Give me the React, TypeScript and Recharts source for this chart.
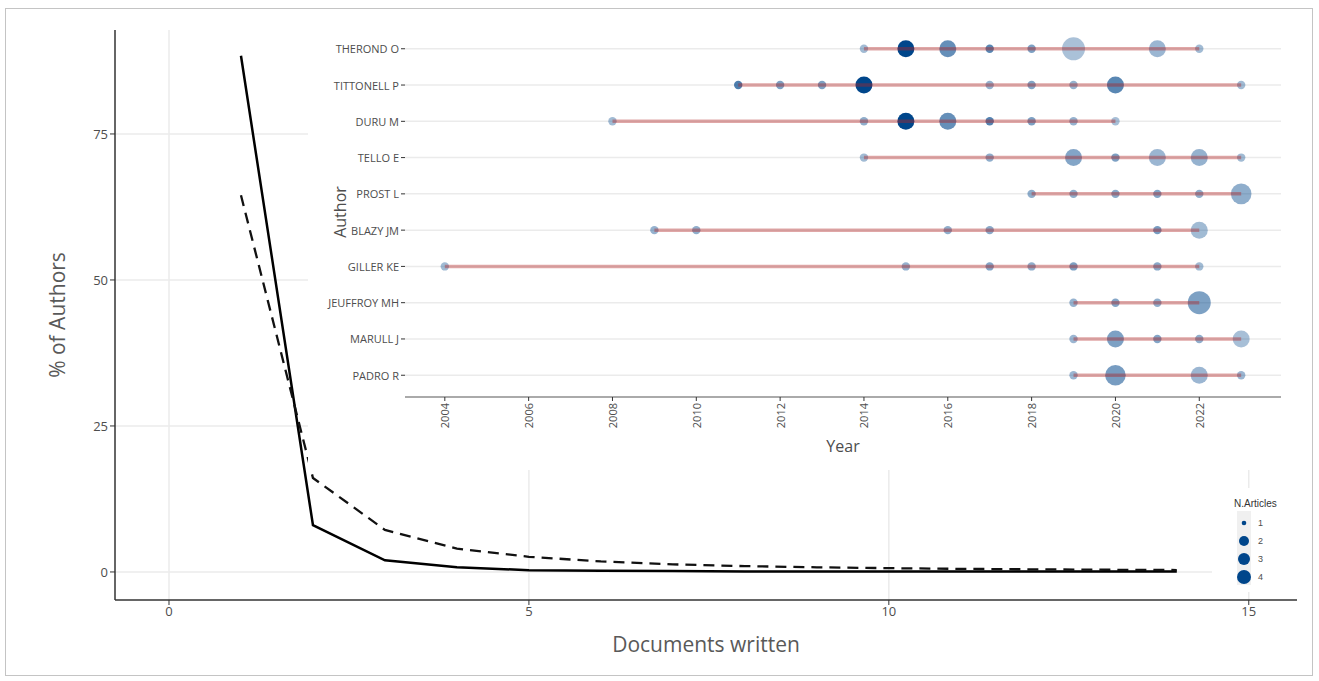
import React from 'react';
import { LineChart, Line, ScatterChart, Scatter, XAxis, YAxis, CartesianGrid, Label } from 'recharts';

const FONT = '"Open Sans", sans-serif';
const TEXT = '#4d4d4d';
const DOT = '#00468B';

// Lotka's law: share of authors by number of documents written
const docsWritten = [1, 2, 3, 4, 5, 6, 7, 8, 9, 10, 11, 12, 13, 14];
const observedPct = [88.4, 8.0, 2.0, 0.8, 0.3, 0.2, 0.15, 0.1, 0.1, 0.08, 0.08, 0.08, 0.08, 0.08];
const lotkaPct = [64.5, 16.1, 7.2, 4.0, 2.6, 1.8, 1.3, 1.0, 0.8, 0.65, 0.53, 0.45, 0.38, 0.33];
const docsTicks = [0, 5, 10, 15];
const pctTicks = [0, 25, 50, 75];

// top authors' production over time
const authors = ['THEROND O', 'TITTONELL P', 'DURU M', 'TELLO E', 'PROST L', 'BLAZY JM', 'GILLER KE', 'JEUFFROY MH', 'MARULL J', 'PADRO R'];
const pubYears = [
  [2014, 2015, 2016, 2017, 2018, 2019, 2021, 2022],
  [2011, 2012, 2013, 2014, 2017, 2018, 2019, 2020, 2023],
  [2008, 2014, 2015, 2016, 2017, 2018, 2019, 2020],
  [2014, 2017, 2019, 2020, 2021, 2022, 2023],
  [2018, 2019, 2020, 2021, 2022, 2023],
  [2009, 2010, 2016, 2017, 2021, 2022],
  [2004, 2015, 2017, 2018, 2019, 2021, 2022],
  [2019, 2020, 2021, 2022],
  [2019, 2020, 2021, 2022, 2023],
  [2019, 2020, 2022, 2023],
];
const pubArticles = [
  [1, 2, 2, 1, 1, 4, 2, 1],
  [1, 1, 1, 2, 1, 1, 1, 2, 1],
  [1, 1, 2, 2, 1, 1, 1, 1],
  [1, 1, 2, 1, 2, 2, 1],
  [1, 1, 1, 1, 1, 3],
  [1, 1, 1, 1, 1, 2],
  [1, 1, 1, 1, 1, 1, 1],
  [1, 1, 1, 4],
  [1, 2, 1, 1, 2],
  [1, 3, 2, 1],
];
const pubTcPerYear = [
  [3, 30, 13, 15, 9, 1.5, 4, 3],
  [17, 9, 9, 30, 5, 8, 5, 15, 3],
  [3, 6, 30, 13, 16, 9, 5, 2],
  [3, 6, 8, 9, 4, 5, 3],
  [6, 6, 7, 8, 6, 6],
  [5, 6, 6, 7, 10, 3],
  [3, 5, 8, 6, 9, 7, 3],
  [5, 8, 6, 9],
  [4, 9, 8, 6, 2],
  [4, 10, 4, 4],
];
const yearTicks = [2004, 2006, 2008, 2010, 2012, 2014, 2016, 2018, 2020, 2022];
const legendArticles = [1, 2, 3, 4];

const lotkaRows = docsWritten.map((docs, i) => ({ docs, observed: observedPct[i], theoretical: lotkaPct[i] }));
const points = authors.flatMap((author, row) =>
  pubYears[row].map((year, j) => ({ author, row, year, n: pubArticles[row][j], tc: pubTcPerYear[row][j] }))
);
const spans = authors.map((author, row) => [
  { author, row, year: pubYears[row][0] },
  { author, row, year: pubYears[row][pubYears[row].length - 1] },
]);
const rowTicks = authors.map((_, i) => i);

const maxTc = Math.max(...pubTcPerYear.flat());
const dotRadius = (n: number) => [0, 4.2, 8.5, 10.3, 11.5][n];
const legendRadius = (n: number) => [0, 2.3, 5, 6, 7][n];
const dotOpacity = (tc: number) => 0.3 + (0.7 * tc) / maxTc;

const renderDot = (props: any) => {
  const { cx, cy, payload } = props;
  return <circle cx={cx} cy={cy} r={dotRadius(payload.n)} fill={DOT} fillOpacity={dotOpacity(payload.tc)} />;
};

const YearTick = (props: any) => {
  const { x, y, payload } = props;
  return (
    <text
      x={x}
      y={y}
      transform={`rotate(-90 ${x} ${y})`}
      textAnchor="end"
      dominantBaseline="central"
      fontSize={11}
      fontFamily={FONT}
      fill={TEXT}
    >
      {payload.value}
    </text>
  );
};

const AuthorTick = (props: any) => {
  const { x, y, payload } = props;
  return (
    <text x={x} y={y} textAnchor="end" dominantBaseline="central" fontSize={11} fontFamily={FONT} fill={TEXT}>
      {authors[payload.value]}
    </text>
  );
};

export default function App() {
  return (
    <div style={{ position: 'absolute', left: 0, top: 0, width: 1319, height: 681, background: '#fff' }}>
      <LineChart width={1319} height={681} data={lotkaRows} margin={{ top: 30, right: 22, left: 0, bottom: 0 }}>
        <CartesianGrid stroke="#ebebeb" strokeWidth={1.5} horizontalValues={pctTicks} verticalValues={docsTicks} />
        <XAxis
          type="number"
          dataKey="docs"
          domain={[-0.75, 15.67]}
          ticks={docsTicks}
          allowDataOverflow
          height={81}
          axisLine={{ stroke: '#333', strokeWidth: 1.5 }}
          tickLine={{ stroke: '#333' }}
          tickSize={5}
          tick={{ fontSize: 13, fill: TEXT, fontFamily: FONT }}
        >
          <Label value="Documents written" position="insideBottom" offset={29} style={{ fontSize: 21, fill: '#595959', fontFamily: FONT }} />
        </XAxis>
        <YAxis
          type="number"
          domain={[-4.8, 92.8]}
          ticks={pctTicks}
          allowDataOverflow
          width={115}
          axisLine={{ stroke: '#333', strokeWidth: 1.5 }}
          tickLine={{ stroke: '#333' }}
          tickSize={5}
          tick={{ fontSize: 13, fill: TEXT, fontFamily: FONT }}
        >
          <Label
            value="% of Authors"
            angle={-90}
            position="insideLeft"
            offset={58}
            style={{ textAnchor: 'middle', fontSize: 21, fill: '#595959', fontFamily: FONT }}
          />
        </YAxis>
        <Line type="linear" dataKey="observed" stroke="#000" strokeWidth={2.5} dot={false} isAnimationActive={false} />
        <Line
          type="linear"
          dataKey="theoretical"
          stroke="#111"
          strokeWidth={2.3}
          strokeDasharray="11 7"
          dot={false}
          isAnimationActive={false}
        />
      </LineChart>

      <div style={{ position: 'absolute', left: 308, top: 22, width: 989, height: 448, background: '#fff' }}>
        <ScatterChart width={989} height={448} margin={{ top: 5, right: 16, left: 0, bottom: 0 }}>
          <CartesianGrid vertical={false} horizontalValues={rowTicks} stroke="#ebebeb" strokeWidth={1.5} />
          <XAxis
            type="number"
            dataKey="year"
            domain={[2003.05, 2023.95]}
            ticks={yearTicks}
            interval={0}
            allowDataOverflow
            height={73}
            axisLine={{ stroke: '#aaa', strokeWidth: 2 }}
            tickLine={{ stroke: '#333' }}
            tickSize={4}
            tick={<YearTick />}
          >
            <Label value="Year" position="insideBottom" offset={18} style={{ fontSize: 16, fill: TEXT, fontFamily: FONT }} />
          </XAxis>
          <YAxis
            type="number"
            dataKey="row"
            domain={[-0.6, 9.6]}
            reversed
            ticks={rowTicks}
            interval={0}
            allowDataOverflow
            width={97}
            axisLine={false}
            tickLine={{ stroke: '#333' }}
            tickSize={4}
            tick={<AuthorTick />}
          >
            <Label
              value="Author"
              angle={-90}
              position="insideLeft"
              offset={32}
              style={{ textAnchor: 'middle', fontSize: 16, fill: TEXT, fontFamily: FONT }}
            />
          </YAxis>
          <Scatter data={points} shape={renderDot} isAnimationActive={false} />
          {spans.map((span, i) => (
            <Scatter
              key={authors[i]}
              data={span}
              line={{ stroke: '#B22222', strokeOpacity: 0.4, strokeWidth: 3.5 }}
              shape={() => <g />}
              isAnimationActive={false}
            />
          ))}
        </ScatterChart>
      </div>

      <div style={{ position: 'absolute', left: 1212, top: 488, width: 85, height: 104, background: '#fff' }}>
        <svg width={85} height={104}>
          <text x={22} y={19} fontSize={10} fontFamily='"Liberation Sans", Arial, sans-serif' fill="#333">
            N.Articles
          </text>
          <rect x={25} y={23} width={14} height={74} fill="#f0f0f0" />
          {legendArticles.map((n, i) => (
            <g key={n}>
              <circle cx={32} cy={35 + i * 18} r={legendRadius(n)} fill={DOT} />
              <text x={46} y={38 + i * 18} fontSize={9} fontFamily='"Liberation Sans", Arial, sans-serif' fill={TEXT}>
                {n}
              </text>
            </g>
          ))}
        </svg>
      </div>

      <div
        style={{
          position: 'absolute',
          left: 5,
          top: 8,
          width: 1306,
          height: 666,
          border: '1.5px solid #c4c4c4',
          pointerEvents: 'none',
        }}
      />
    </div>
  );
}
